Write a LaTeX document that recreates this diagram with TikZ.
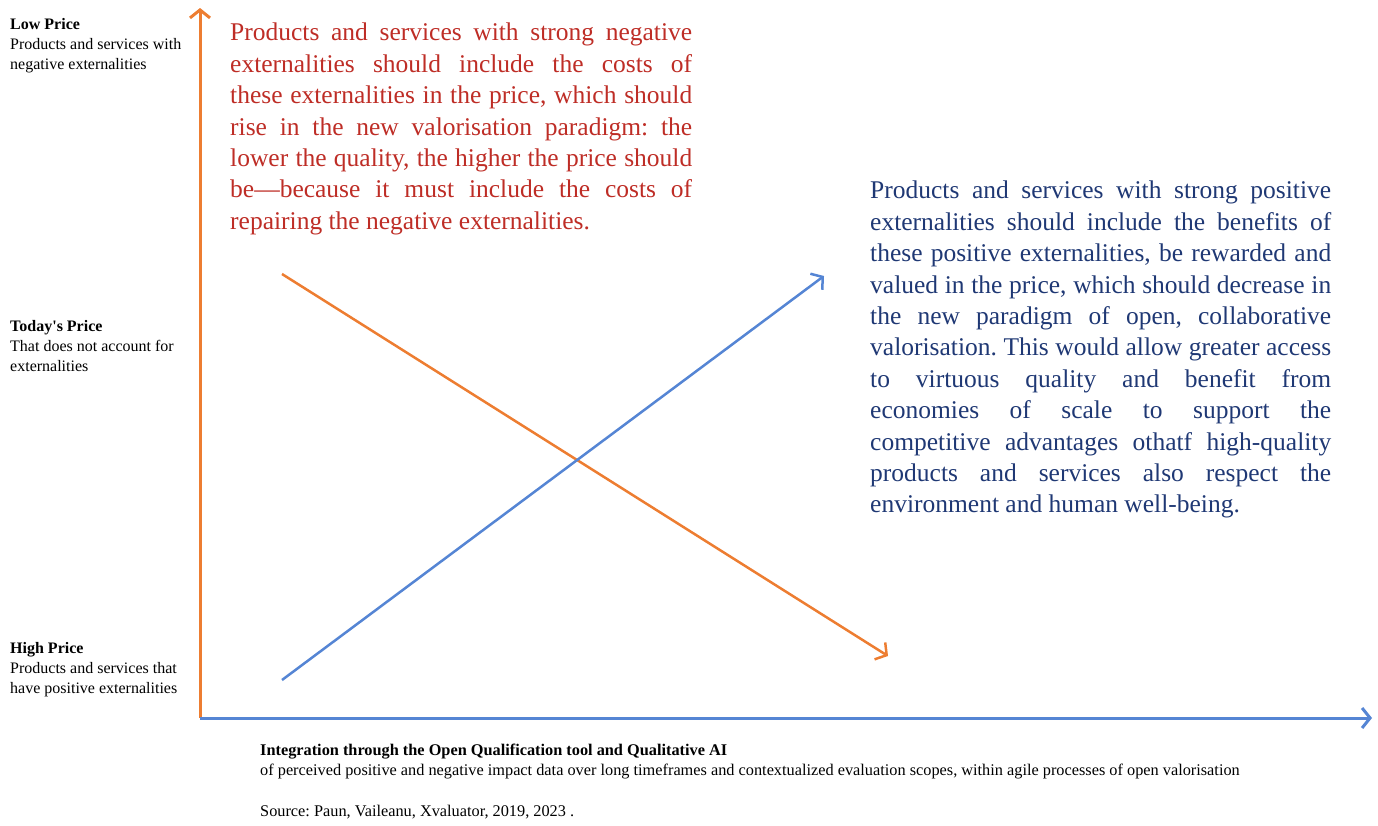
\documentclass[tikz,border=0pt]{standalone}
\usepackage{fontspec}
\setmainfont{Liberation Serif}
\usepackage{tikz}
\usetikzlibrary{arrows.meta}
\definecolor{axorange}{HTML}{ED7D31}
\definecolor{axblue}{HTML}{5585D4}
\definecolor{negred}{HTML}{BE2D26}
\definecolor{posnavy}{HTML}{1F3874}
\tikzstyle{lbl} = [anchor=north west, inner sep=0pt, align=left, font=\fontsize{16}{20.2}\selectfont]
\tikzstyle{para} = [anchor=north west, inner sep=0pt, text width=462pt, align=justify, font=\fontsize{25.5}{31.4}\selectfont]
\tikzstyle{axis} = [line width=3pt]

\begin{document}
\frenchspacing
\begin{tikzpicture}[x=1pt,y=-1pt,>={Straight Barb[length=8pt,width=20pt]}]
	  \useasboundingbox (0,0) rectangle (1378,825);
	  \coordinate (o) at (200,718);
	  \coordinate (ytop) at (200,8);
	  \coordinate (xend) at (1372,718);
	  \coordinate (n1) at (282,274);
	  \coordinate (n2) at (888,656);
	  \coordinate (p1) at (282,680);
	  \coordinate (p2) at (824,276);

	  \node (low) at (10,18) [lbl] {\textbf{Low Price}\\Products and services with\\negative externalities};
	  \node (today) at (10,320) [lbl] {\textbf{Today\textquotesingle s Price}\\That does not account for\\externalities};
	  \node (high) at (10,642) [lbl] {\textbf{High Price}\\Products and services that\\have positive externalities};

	  \node (neg) at (230,23) [para, text=negred] {Products and services with strong negative\linebreak externalities should include the costs of\linebreak these externalities in the price, which should\linebreak rise in the new valorisation paradigm: the\linebreak lower the quality, the higher the price should\linebreak be---because it must include the costs of\linebreak repairing the negative externalities.};
	  \node (pos) at (870,181) [para, text width=461pt, text=posnavy] {Products and services with strong positive\linebreak externalities should include the benefits of\linebreak these positive externalities, be rewarded and\linebreak valued in the price, which should decrease in\linebreak the new paradigm of open, collaborative\linebreak valorisation. This would allow greater access\linebreak to virtuous quality and benefit from\linebreak economies of scale to support the\linebreak competitive advantages othatf high-quality\linebreak products and services also respect the\linebreak environment and human well-being.};

	  \node (xlbl) at (260,744) [lbl, font=\fontsize{16.3}{20.2}\selectfont] {\textbf{Integration through the Open Qualification tool and Qualitative AI}\\of perceived positive and negative impact data over long timeframes and contextualized evaluation scopes, within agile processes of open valorisation};
	  \node (src) at (260,805) [lbl, font=\fontsize{16.3}{20.2}\selectfont] {Source: Paun, Vaileanu, Xvaluator, 2019, 2023 .};

	  \draw [->, axis, axorange] (o) -- (ytop);
	  \draw [->, axis, axblue] (o) -- (xend);
	  \draw [->, line width=2.5pt, axorange] (n1) -- (n2);
	  \draw [->, line width=2.5pt, axblue] (p1) -- (p2);
	\end{tikzpicture}
\end{document}
